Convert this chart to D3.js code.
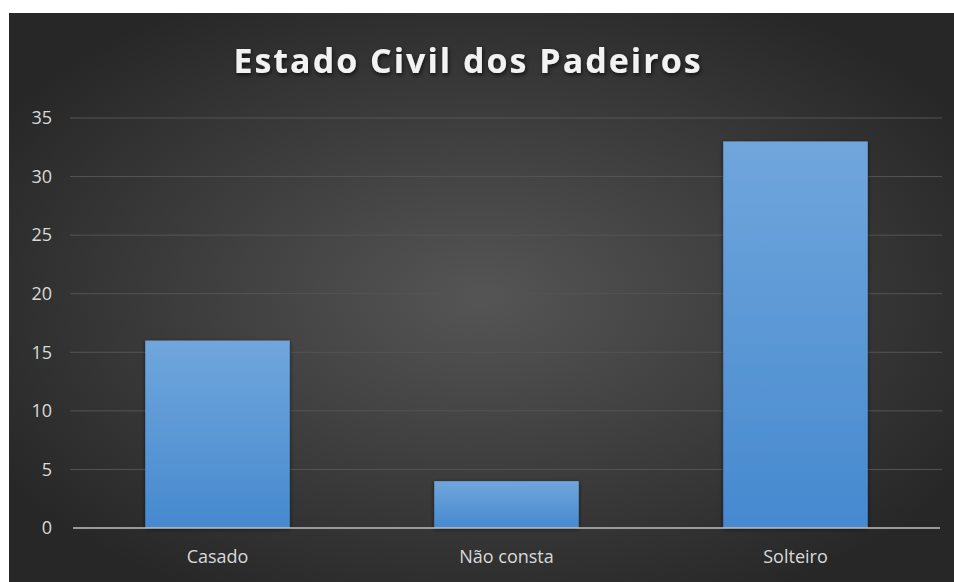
<!DOCTYPE html>
<html><head><meta charset="utf-8">
<script src="https://cdn.jsdelivr.net/npm/d3@7"></script>
<style>html,body{margin:0;padding:0;background:#fff;}svg{display:block;}</style>
</head><body>
<script>
const categories = ["Casado", "Não consta", "Solteiro"];
const values = [16, 4, 33];
const yTicks = [0, 5, 10, 15, 20, 25, 30, 35];
const title = "Estado Civil dos Padeiros";

const W = 954, H = 582;
const svg = d3.select("body").append("svg").attr("width", W).attr("height", H);
const defs = svg.append("defs");
const rg = defs.append("radialGradient").attr("id","bg").attr("cx","50%").attr("cy","50%").attr("r","60%");
rg.append("stop").attr("offset","0%").attr("stop-color","#555555");
rg.append("stop").attr("offset","100%").attr("stop-color","#272727");
const bg = defs.append("linearGradient").attr("id","bar").attr("x1",0).attr("y1",0).attr("x2",0).attr("y2",1);
bg.append("stop").attr("offset","0%").attr("stop-color","#70a6dc");
bg.append("stop").attr("offset","100%").attr("stop-color","#4689cf");
const f = defs.append("filter").attr("id","ts").attr("x","-10%").attr("y","-30%").attr("width","120%").attr("height","160%");
f.append("feDropShadow").attr("dx",1).attr("dy",2).attr("stdDeviation",2).attr("flood-color","#000").attr("flood-opacity",0.7);
const fb = defs.append("filter").attr("id","bs").attr("x","-10%").attr("y","-10%").attr("width","120%").attr("height","120%");
fb.append("feDropShadow").attr("dx",0).attr("dy",1).attr("stdDeviation",2).attr("flood-color","#000").attr("flood-opacity",0.6);

svg.append("rect").attr("x",9).attr("y",13).attr("width",W-9).attr("height",H-13).attr("fill","url(#bg)");

const x0 = 73, x1 = 940, yTop = 118, yBot = 528;
const x = d3.scaleBand().domain(categories).range([x0, x1]).paddingInner(0.5).paddingOuter(0.25);
const y = d3.scaleLinear().domain([0, 35]).range([yBot, yTop]);

// gridlines
svg.append("g").selectAll("line").data(yTicks.filter(t=>t>0)).join("line")
  .attr("x1",70).attr("x2",942).attr("y1",d=>y(d)).attr("y2",d=>y(d))
  .attr("stroke","#555555").attr("stroke-width",1);

// y labels
const yAxis = d3.axisLeft(y).tickValues(yTicks).tickSize(0).tickPadding(0);
const ya = svg.append("g").attr("transform","translate(52,0)").call(yAxis);
ya.select(".domain").remove();
ya.selectAll("text").attr("fill","#d9d9d9").attr("font-size",18).attr("font-family","'Open Sans', sans-serif");

// bars
svg.append("g").selectAll("rect").data(categories).join("rect")
  .attr("x",d=>x(d)).attr("width",x.bandwidth())
  .attr("y",(d,i)=>y(values[i])).attr("height",(d,i)=>yBot-y(values[i]))
  .attr("fill","url(#bar)").attr("filter","url(#bs)");

// baseline
svg.append("line").attr("x1",x0).attr("x2",x1).attr("y1",yBot).attr("y2",yBot)
  .attr("stroke","#bfbfbf").attr("stroke-width",1.5);

// x labels
const xAxis = d3.axisBottom(x).tickSize(0).tickPadding(0);
const xa = svg.append("g").attr("transform",`translate(0,${yBot+22})`).call(xAxis);
xa.select(".domain").remove();
xa.selectAll("text").attr("fill","#d9d9d9").attr("font-size",18).attr("font-family","'Open Sans', sans-serif").attr("dy","0.71em");

// title
svg.append("text").attr("x",468).attr("y",73).attr("text-anchor","middle")
  .attr("font-family","'Open Sans', sans-serif").attr("font-weight","bold").attr("font-size",34)
  .attr("letter-spacing",2).attr("fill","#f2f2f2").attr("filter","url(#ts)").text(title);
</script>
</body></html>
